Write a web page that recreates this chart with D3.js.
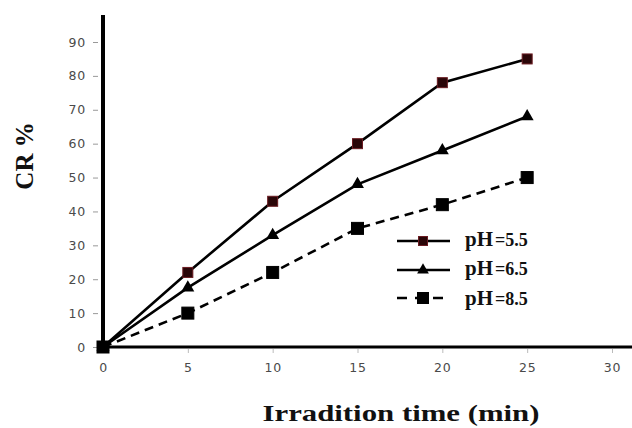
<!DOCTYPE html>
<html>
<head>
<meta charset="utf-8">
<script src="https://cdn.jsdelivr.net/npm/d3@7"></script>
<style>
  html, body { margin: 0; padding: 0; background: #fff; }
  svg { display: block; }
</style>
</head>
<body>
<svg id="chart" width="632" height="428"></svg>
<script>
// Irradiation time (min) and colour removal (%) at three pH levels
const times = [0, 5, 10, 15, 20, 25];
const ph55 = [0, 22, 43, 60, 78, 85];
const ph65 = [0, 17.5, 33, 48, 58, 68];
const ph85 = [0, 10, 22, 35, 42, 50];
const seriesNames = ["pH=5.5", "pH=6.5", "pH=8.5"];
const xTicks = [0, 5, 10, 15, 20, 25, 30];
const yTicks = [0, 10, 20, 30, 40, 50, 60, 70, 80, 90];

const svg = d3.select("#chart");

const x = d3.scaleLinear().domain([0, 30]).range([103, 612]);
const y = d3.scaleLinear().domain([0, 90]).range([347, 42]);

const tickFont = "'DejaVu Sans', Verdana, sans-serif";

// Y axis: gray ticks and labels, heavy black spine
const yAxis = d3.axisLeft(y).tickValues(yTicks).tickSize(5).tickPadding(7);
const gy = svg.append("g").attr("transform", "translate(98,0)").call(yAxis);
gy.select(".domain").remove();
gy.selectAll(".tick line").attr("stroke", "#999").attr("stroke-width", 1);
gy.selectAll(".tick text")
  .attr("fill", "#4a4a4a")
  .style("font-family", tickFont)
  .style("font-size", "12.5px")
  .style("letter-spacing", "0.8px");

// X axis
const xAxis = d3.axisBottom(x).tickValues(xTicks).tickSize(4).tickPadding(10);
const gx = svg.append("g").attr("transform", "translate(0,349)").call(xAxis);
gx.select(".domain").remove();
gx.selectAll(".tick line").attr("stroke", "#bbb").attr("stroke-width", 1);
gx.selectAll(".tick text")
  .attr("fill", "#4a4a4a")
  .style("font-family", tickFont)
  .style("font-size", "12.5px")
  .style("letter-spacing", "0.8px");

// Axis spines
svg.append("line")
  .attr("x1", x(0)).attr("x2", 632)
  .attr("y1", y(0)).attr("y2", y(0))
  .attr("stroke", "#000").attr("stroke-width", 3);
svg.append("line")
  .attr("x1", x(0)).attr("x2", x(0))
  .attr("y1", y(98)).attr("y2", y(0) + 2)
  .attr("stroke", "#000").attr("stroke-width", 4);

// Series lines
const line = d3.line().x((d, i) => x(times[i])).y(d => y(d));
const series = [
  { name: seriesNames[0], values: ph55, dash: null, marker: "square", fill: "#2a0608", stroke: "#6b1c22", size: 10 },
  { name: seriesNames[1], values: ph65, dash: null, marker: "triangle", fill: "#000", stroke: "#000", size: 11 },
  { name: seriesNames[2], values: ph85, dash: "9,6", marker: "square", fill: "#000", stroke: "#000", size: 12 }
];

series.forEach(s => {
  svg.append("path")
    .datum(s.values)
    .attr("d", line)
    .attr("fill", "none")
    .attr("stroke", "#000")
    .attr("stroke-width", 2.6)
    .attr("stroke-dasharray", s.dash);
});

function drawMarker(g, s, cx, cy) {
  if (s.marker === "square") {
    g.append("rect")
      .attr("x", cx - s.size / 2).attr("y", cy - s.size / 2)
      .attr("width", s.size).attr("height", s.size)
      .attr("fill", s.fill).attr("stroke", s.stroke).attr("stroke-width", 1);
  } else {
    g.append("path")
      .attr("d", d3.symbol().type(d3.symbolTriangle).size(s.size * s.size * 0.6)())
      .attr("transform", `translate(${cx},${cy})`)
      .attr("fill", s.fill);
  }
}

series.forEach(s => {
  const g = svg.append("g");
  s.values.forEach((v, i) => drawMarker(g, s, x(times[i]), y(v)));
});

// Legend
const legendY = [241, 270, 298];
series.forEach((s, i) => {
  const ly = legendY[i];
  svg.append("line")
    .attr("x1", 397).attr("x2", 450).attr("y1", ly).attr("y2", ly)
    .attr("stroke", "#000").attr("stroke-width", 2.6)
    .attr("stroke-dasharray", s.dash ? "10,8" : null);
  drawMarker(svg.append("g"), Object.assign({}, s, { size: s.size - 1 }), 423, ly);
  const parts = s.name.split("=");
  const t = svg.append("text")
    .attr("x", 465).attr("y", ly + 5 + (i === 2 ? 2 : 0))
    .style("font-family", "'Liberation Serif', 'Times New Roman', serif")
    .style("font-weight", "bold")
    .attr("fill", "#111");
  t.append("tspan").style("font-size", "21px").text(parts[0]);
  t.append("tspan").style("font-size", "18px").attr("dx", 2).text("=" + parts[1]);
});

// Axis titles
svg.append("text")
  .attr("transform", "translate(33,156) rotate(-90)")
  .attr("text-anchor", "middle")
  .style("font-family", "'Liberation Serif', 'Times New Roman', serif")
  .style("font-weight", "bold")
  .style("font-size", "25px")
  .attr("fill", "#111")
  .text("CR %");

svg.append("text")
  .attr("x", 401).attr("y", 421)
  .attr("text-anchor", "middle")
  .attr("textLength", 277)
  .attr("lengthAdjust", "spacingAndGlyphs")
  .style("font-family", "'Liberation Serif', 'Times New Roman', serif")
  .style("font-weight", "bold")
  .style("font-size", "24px")
  .attr("fill", "#111")
  .text("Irradition time (min)");
</script>
</body>
</html>
